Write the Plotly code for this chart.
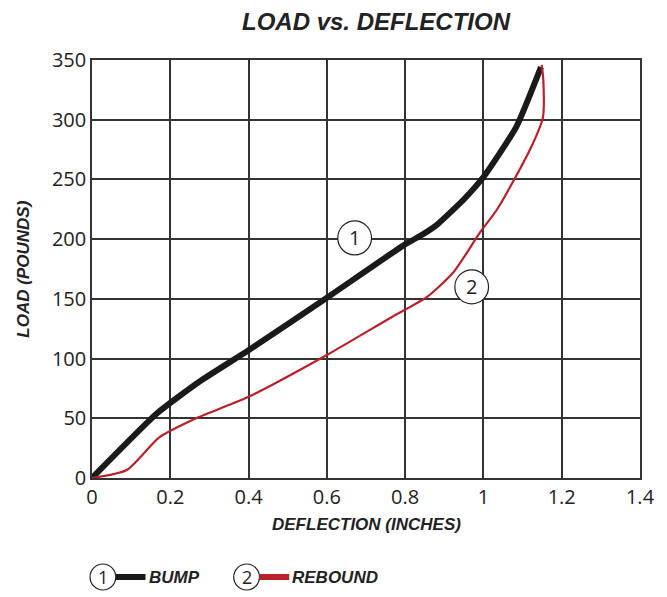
import plotly.graph_objects as go

bump_x = [0, 0.167, 0.273, 0.4, 0.603, 0.797, 0.84, 0.881, 0.949, 1.0, 1.084, 1.147]
bump_y = [0, 54.4, 80.4, 107, 151.6, 195, 203, 212, 233, 252, 294, 344]

rebound_x = [0, 0.089, 0.172, 0.273, 0.4, 0.6, 0.762, 0.856, 0.924, 0.99, 1.033, 1.078, 1.127, 1.152, 1.153, 1.149]
rebound_y = [0, 6.7, 34, 51, 68, 103, 134, 151.6, 172.5, 205, 224, 249.5, 280.5, 302, 333, 346]

x_ticks = [0, 0.2, 0.4, 0.6, 0.8, 1.0, 1.2, 1.4]
x_tick_labels = ["0", "0.2", "0.4", "0.6", "0.8", "1", "1.2", "1.4"]
y_ticks = [0, 50, 100, 150, 200, 250, 300, 350]

series_names = ["BUMP", "REBOUND"]
series_colors = ["#1a1a1a", "#b8202b"]
label_pos = [(0.671, 201), (0.97, 160)]

FONT = "Liberation Sans Narrow, Arial Narrow, Liberation Sans, Arial"
NUMFONT = "Open Sans, Noto Sans, sans-serif"

# page offset (body margin) = 8px
OFF = 8
L, T, R, B = 92 - OFF, 60 - OFF, 645 - OFF, 478 - OFF  # plot box in figure coords
W, H = 659, 589
PW, PH = R - L, B - T

fig = go.Figure()
fig.add_trace(go.Scatter(x=bump_x, y=bump_y, mode="lines", line=dict(color=series_colors[0], width=6, shape="spline", smoothing=0.5), cliponaxis=False, showlegend=False))
fig.add_trace(go.Scatter(x=rebound_x, y=rebound_y, mode="lines", line=dict(color=series_colors[1], width=2.2, shape="spline", smoothing=0.6), cliponaxis=False, showlegend=False))

shapes = []
annotations = []
# in-chart circle labels
for i, (cx, cy) in enumerate(label_pos):
    dx = 17 / (PW / 1.4)
    dy = 17 / (PH / 350)
    shapes.append(dict(type="circle", xref="x", yref="y", x0=cx - dx, x1=cx + dx, y0=cy - dy, y1=cy + dy,
                       line=dict(color="#222", width=1.2), fillcolor="white", layer="above"))
    annotations.append(dict(x=cx, y=cy, xref="x", yref="y", text=str(i + 1), showarrow=False,
                            xanchor="center", yanchor="middle",
                            font=dict(family=NUMFONT, size=20, color="#222")))

# bottom legend (page pixel positions)
legend_items = [(103, 577), (248, 577)]
for i, (px, py) in enumerate(legend_items):
    px -= OFF
    py -= OFF
    cx = (px - L) / PW
    cy = (B - py) / PH
    r = 13
    shapes.append(dict(type="circle", xref="paper", yref="paper", x0=cx - r / PW, x1=cx + r / PW,
                       y0=cy - r / PH, y1=cy + r / PH, line=dict(color="#222", width=1.2)))
    annotations.append(dict(x=cx, y=cy, xref="paper", yref="paper", text=str(i + 1), showarrow=False,
                            xanchor="center", yanchor="middle",
                            font=dict(family=NUMFONT, size=18, color="#222")))
    shapes.append(dict(type="line", xref="paper", yref="paper", x0=(px + 13 - L) / PW, x1=(px + 43 - L) / PW,
                       y0=cy, y1=cy, line=dict(color=series_colors[i], width=6)))
    annotations.append(dict(x=(px + 44 - L) / PW, y=cy, xref="paper", yref="paper", xanchor="left", yanchor="middle",
                            text="<b><i>" + series_names[i] + "</i></b>", showarrow=False,
                            font=dict(family=FONT, size=17, color="#222")))

# axis titles
annotations.append(dict(x=0.5, y=(B - (524 - OFF)) / PH, xref="paper", yref="paper", text="<b><i>DEFLECTION (INCHES)</i></b>",
                        showarrow=False, font=dict(family=FONT, size=17, color="#222"), xanchor="center", yanchor="middle"))
annotations.append(dict(x=((22 - OFF) - L) / PW, y=0.5, xref="paper", yref="paper", text="<b><i>LOAD (POUNDS)</i></b>",
                        showarrow=False, textangle=-90, font=dict(family=FONT, size=17, color="#222"),
                        xanchor="center", yanchor="middle"))

fig.update_layout(
    width=W, height=H,
    margin=dict(l=L, r=W - R, t=T, b=H - B),
    paper_bgcolor="white", plot_bgcolor="white",
    title=dict(text="<b><i>LOAD vs. DEFLECTION</i></b>", x=(376 - OFF) / W, xanchor="center",
               y=1 - (22 - OFF) / H, yanchor="middle",
               font=dict(family=FONT, size=24, color="#222")),
    xaxis=dict(range=[0, 1.4], tickvals=x_ticks, ticktext=x_tick_labels, showgrid=True, gridcolor="#333", gridwidth=1.5,
               showline=True, linecolor="#333", linewidth=1.5, mirror=True, zeroline=False, ticks="",
               tickfont=dict(family=NUMFONT, size=20, color="#222")),
    yaxis=dict(range=[0, 350], tickvals=y_ticks, showgrid=True, gridcolor="#333", gridwidth=1.5,
               showline=True, linecolor="#333", linewidth=1.5, mirror=True, zeroline=False, ticks="",
               tickfont=dict(family=NUMFONT, size=20, color="#222")),
    shapes=shapes, annotations=annotations, showlegend=False,
)

fig.write_html("out.html")
